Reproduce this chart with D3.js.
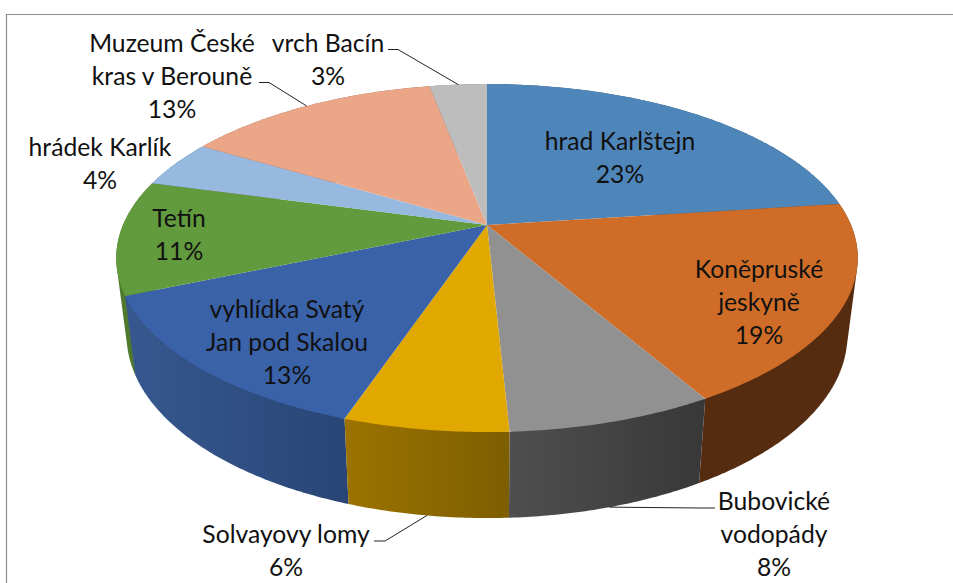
<!DOCTYPE html>
<html>
<head>
<meta charset="utf-8">
<script src="https://cdnjs.cloudflare.com/ajax/libs/d3/7.8.5/d3.min.js"></script>
<style>
    html, body { margin: 0; padding: 0; background: #fff; }
    svg { display: block; }
    text { font-family: Lato, "Open Sans", sans-serif; font-size: 24.7px; fill: #111; text-anchor: middle; }
</style>
</head>
<body>
<div id="chart"></div>
<script>
// data
const categories = [
    ["hrad Karlštejn"],
    ["Koněpruské", "jeskyně"],
    ["Bubovické", "vodopády"],
    ["Solvayovy lomy"],
    ["vyhlídka Svatý", "Jan pod Skalou"],
    ["Tetín"],
    ["hrádek Karlík"],
    ["Muzeum České", "kras v Berouně"],
    ["vrch Bacín"]
];
const shares = [22.95, 18.7, 7.55, 6, 13.4, 10.6, 4.4, 13.4, 3];

// styles
const topColors = ["#4f86ba", "#cf6d28", "#919191", "#e0a800", "#3a62a9", "#629a3e", "#97b8df", "#eba587", "#bdbdbd"];
const wallLeft = ["#2f5070", "#562c11", "#4f4f4f", "#9c7300", "#37588f", "#4f7a2e", "#5f7a98", "#96654f", "#777777"];
const wallRight = ["#2f5070", "#562c11", "#383838", "#7d5e00", "#294576", "#4f7a2e", "#5f7a98", "#96654f", "#777777"];

// where each label block sits: centre x and first baseline
const labelX = [620, 759, 774, 286, 287, 179, 100, 172, 328];
const labelY = [150, 278, 510, 543, 318, 227, 156, 52, 52];
const lineGap = 33;

const width = 953, height = 583;
const cx = 487, cy = 225;

// perspective disc: apex is not the centre of the drawn ellipse
const A = 364, B = 167.7, k = 0.19;
function topPoint(a) {
    const p = Math.sin(a), q = -Math.cos(a), w = 1 - k * q;
    return [cx + A * p / w, cy + B * q / w];
}
// bottom rim is the top rim pulled in a little and pushed down
function bottomPoint(a) {
    const t = topPoint(a);
    return [cx + 0.972 * (t[0] - cx), 1.05 * t[1] + 64.4];
}
function arcAngles(d) {
    const n = Math.max(8, Math.ceil((d.endAngle - d.startAngle) / 0.01));
    return d3.range(n + 1).map(i => d.startAngle + (d.endAngle - d.startAngle) * i / n);
}

const svg = d3.select("#chart").append("svg")
    .attr("width", width)
    .attr("height", height);

// chart frame, only top and left show
svg.append("path")
    .attr("d", d3.line()([[6.5, height], [6.5, 14.5], [width, 14.5]]))
    .attr("fill", "none")
    .attr("stroke", "#8c8c8c")
    .attr("stroke-width", 1.2);

const pie = d3.pie().sort(null).value(d => d);
const slices = pie(shares);
slices.forEach((d, i) => {
    d.i = i;
    d.mid = (d.startAngle + d.endAngle) / 2;
    d.walls = arcAngles(d).flatMap(a => [topPoint(a), bottomPoint(a)]);
});

const closed = d3.line().curve(d3.curveLinearClosed);

// side wall gradients, left to right
const defs = svg.append("defs");
slices.forEach(d => {
    const xs = d3.extent(d.walls, p => p[0]);
    const g = defs.append("linearGradient")
        .attr("id", "wall" + d.i)
        .attr("gradientUnits", "userSpaceOnUse")
        .attr("x1", xs[0]).attr("x2", xs[1])
        .attr("y1", 0).attr("y2", 0);
    g.append("stop").attr("offset", 0).attr("stop-color", wallLeft[d.i]);
    g.append("stop").attr("offset", 1).attr("stop-color", wallRight[d.i]);
});

// walls back to front, then the top faces over them
svg.append("g").selectAll("path")
    .data(slices.slice().sort((a, b) => Math.cos(b.mid) - Math.cos(a.mid)))
    .join("path")
    .attr("d", d => closed(d3.polygonHull(d.walls)))
    .attr("fill", d => "url(#wall" + d.i + ")");

svg.append("g").selectAll("path")
    .data(slices)
    .join("path")
    .attr("d", d => closed([[cx, cy]].concat(arcAngles(d).map(topPoint))))
    .attr("fill", d => topColors[d.i]);

// leader lines, outer label end + elbow, inner end sits on the rim at mid slice
const leaders = [
    { i: 2, from: [715, 508], elbow: [700, 508], rim: bottomPoint },
    { i: 3, from: [374, 541], elbow: [385, 541], rim: bottomPoint },
    { i: 7, from: [259, 82.5], elbow: [269, 82.5], rim: topPoint },
    { i: 8, from: [388, 49.5], elbow: [398, 49.5], rim: topPoint }
];
svg.append("g").selectAll("path")
    .data(leaders)
    .join("path")
    .attr("d", l => d3.line()([l.from, l.elbow, l.rim(slices[l.i].mid)]))
    .attr("fill", "none")
    .attr("stroke", "#222")
    .attr("stroke-width", 1);

// labels
const labels = svg.append("g").selectAll("text")
    .data(slices)
    .join("text")
    .attr("x", d => labelX[d.i])
    .attr("y", d => labelY[d.i]);
labels.selectAll("tspan")
    .data(d => categories[d.i].concat(Math.round(d.data) + "%"))
    .join("tspan")
    .attr("x", function () { return this.parentNode.getAttribute("x"); })
    .attr("dy", (d, i) => i ? lineGap : 0)
    .text(d => d);
</script>
</body>
</html>
